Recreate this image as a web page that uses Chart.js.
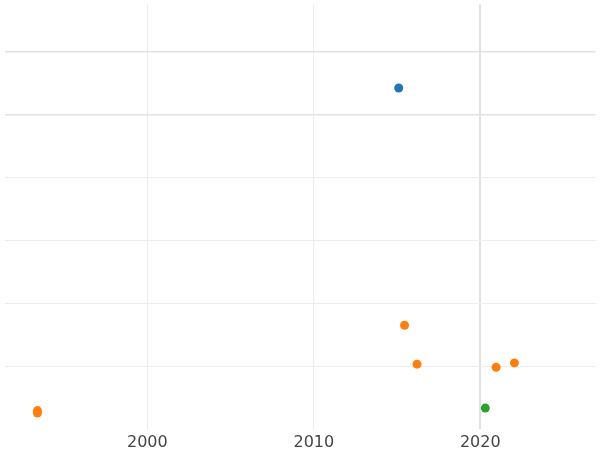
<!DOCTYPE html>
<html><head><meta charset="utf-8">
<script src="https://cdn.jsdelivr.net/npm/chart.js@4"></script>
<style>html,body{margin:0;padding:0;background:#fff}#w{width:600px;height:450px}</style>
</head><body><div id="w"><canvas id="c"></canvas></div>
<script>
const blueX=[2015.1], blueY=[5.43];
const orangeX=[1993.4,1993.4,2015.45,2016.2,2020.95,2022.05], orangeY=[0.29,0.25,1.65,1.03,0.98,1.05];
const greenX=[2020.3], greenY=[0.33];
const xTicks=[2000,2010,2020];
const pts=(xs,ys)=>xs.map((x,i)=>({x,y:ys[i]}));
new Chart(document.getElementById('c'),{type:'scatter',
data:{datasets:[
{data:pts(blueX,blueY),backgroundColor:'#1f77b4',borderColor:'#1f77b4'},
{data:pts(orangeX,orangeY),backgroundColor:'#ff7f0e',borderColor:'#ff7f0e'},
{data:pts(greenX,greenY),backgroundColor:'#2ca02c',borderColor:'#2ca02c'}]},
options:{responsive:true,maintainAspectRatio:false,animation:false,
elements:{point:{radius:4.5,borderWidth:0}},
layout:{padding:{left:-5,right:-5,top:-5,bottom:-6}},
plugins:{legend:{display:false},tooltip:{enabled:false}},
scales:{
x:{type:'linear',min:1991.42,max:2026.92,border:{display:false},
 afterBuildTicks:a=>{a.ticks=xTicks.map(v=>({value:v}));},
 grid:{color:c=>c.tick&&c.tick.value===2020?'#e0e0e0':'#ececec',lineWidth:c=>c.tick&&c.tick.value===2020?2:1,drawTicks:false},
 ticks:{color:'#444',font:{size:16,family:'DejaVu Sans'},padding:4,callback:v=>String(v)}},
y:{min:0,max:6.76,border:{display:false},
 afterBuildTicks:a=>{a.ticks=[1,2,3,4,5,6].map(v=>({value:v}));},
 grid:{color:c=>c.tick&&c.tick.value>=5?'#e2e2e2':'#ececec',lineWidth:c=>c.tick&&c.tick.value>=5?1.5:1,drawTicks:false},
 ticks:{display:false}}}}});
</script></body></html>
